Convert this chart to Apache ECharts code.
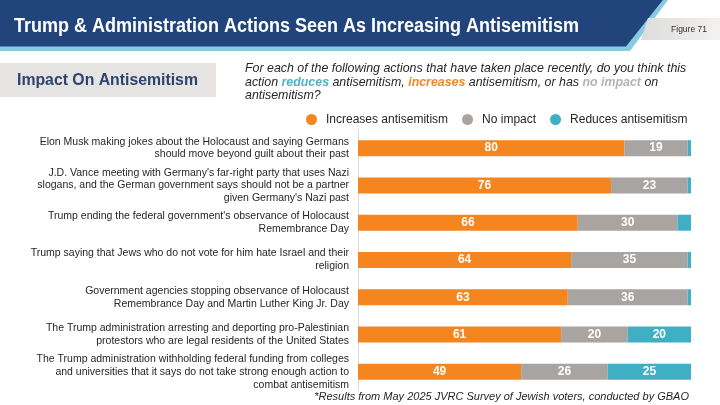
<!DOCTYPE html>
<html>
<head>
<meta charset="utf-8">
<script src="https://cdn.jsdelivr.net/npm/echarts@6/dist/echarts.min.js"></script>
<style>html,body{margin:0;padding:0;background:#fff}#c{width:720px;height:405px}</style>
</head>
<body>
<div id="c"></div>
<script>
const categories = [
  "Elon Musk making jokes about the Holocaust and saying Germans\nshould move beyond guilt about their past",
  "J.D. Vance meeting with Germany's far-right party that uses Nazi\nslogans, and the German government says should not be a partner\ngiven Germany's Nazi past",
  "Trump ending the federal government's observance of Holocaust\nRemembrance Day",
  "Trump saying that Jews who do not vote for him hate Israel and their\nreligion",
  "Government agencies stopping observance of Holocaust\nRemembrance Day and Martin Luther King Jr. Day",
  "The Trump administration arresting and deporting pro-Palestinian\nprotestors who are legal residents of the United States",
  "The Trump administration withholding federal funding from colleges\nand universities that it says do not take strong enough action to\ncombat antisemitism"
];
const increases = [80, 76, 66, 64, 63, 61, 49];
const noImpact = [19, 23, 30, 35, 36, 20, 26];
const reduces = [1, 1, 4, 1, 1, 20, 25];
const seriesNames = ["Increases antisemitism", "No impact", "Reduces antisemitism"];

const ORANGE = '#f5851f', GRAY = '#a8a4a1', TEAL = '#3fb0c4';
const FONT = 'Liberation Sans, Arial, sans-serif';
const chart = echarts.init(document.getElementById('c'), null, {renderer: 'canvas'});

function mkSeries(name, data, color) {
  return {
    name: name, type: 'bar', stack: 'total', data: data, barWidth: 16,
    itemStyle: {color: color},
    label: {
      show: true, position: 'inside', color: '#fff', fontWeight: 'bold', fontSize: 12,
      fontFamily: FONT,
      formatter: p => (p.value >= 5 ? String(p.value) : '')
    }
  };
}

chart.setOption({
  animation: false,
  textStyle: {fontFamily: FONT},
  legend: {
    data: seriesNames, top: 108.5, left: 301, icon: 'circle', itemWidth: 11, itemHeight: 11,
    itemGap: 14, textStyle: {fontSize: 12, color: '#262626', padding: [0, 0, 0, 4]}
  },
  grid: {left: 358, right: 29, top: 129.5, height: 261, containLabel: false},
  xAxis: {type: 'value', min: 0, max: 100, show: false},
  yAxis: {
    type: 'category', data: categories, inverse: true,
    axisLine: {show: true, lineStyle: {color: '#dcdcdc', width: 1}},
    axisTick: {show: false},
    axisLabel: {fontSize: 10.5, color: '#262626', lineHeight: 12.8, margin: 9, align: 'right'}
  },
  series: [mkSeries(seriesNames[0], increases, ORANGE), mkSeries(seriesNames[1], noImpact, GRAY), mkSeries(seriesNames[2], reduces, TEAL)],
  graphic: [
    {type: 'polygon', shape: {points: [[0, 46], [626, 46], [663, 0], [668, 0], [630, 51], [0, 51]]}, style: {fill: '#86cbe1'}},
    {type: 'polygon', shape: {points: [[0, 0], [663, 0], [626, 46.5], [0, 46.5]]}, style: {fill: '#21447b'}},
    {type: 'text', x: 14, y: 26.5, scaleX: 0.9, style: {text: 'Trump & Administration Actions Seen As Increasing Antisemitism', fill: '#fff', font: 'bold 20px ' + FONT, textVerticalAlign: 'middle'}},
    {type: 'polygon', shape: {points: [[648, 18], [720, 18], [720, 40], [641, 40]]},
      style: {fill: new echarts.graphic.LinearGradient(0, 0, 1, 0, [{offset: 0, color: '#dedcda'}, {offset: 1, color: '#f3f2f1'}])}},
    {type: 'text', x: 689, y: 29.5, style: {text: 'Figure 71', fill: '#333', font: '8.5px ' + FONT, textAlign: 'center', textVerticalAlign: 'middle'}},
    {type: 'rect', shape: {x: 0, y: 63, width: 216, height: 34}, style: {fill: '#e6e4e3'}},
    {type: 'text', x: 17, y: 80.5, scaleX: 0.93, style: {text: 'Impact On Antisemitism', fill: '#2e446f', font: 'bold 17px ' + FONT, textVerticalAlign: 'middle'}},
    {type: 'text', x: 245, y: 62, style: {
      text: 'For each of the following actions that have taken place recently, do you think this\naction {r|reduces} antisemitism, {i|increases} antisemitism, or has {n|no impact} on\nantisemitism?',
      fill: '#262626', font: 'italic 12.4px ' + FONT, lineHeight: 13.6, textVerticalAlign: 'top',
      rich: {
        r: {fill: '#4fb3c8', font: 'italic bold 12.4px ' + FONT, lineHeight: 13.6},
        i: {fill: '#f0882a', font: 'italic bold 12.4px ' + FONT, lineHeight: 13.6},
        n: {fill: '#b7b2af', font: 'italic bold 12.4px ' + FONT, lineHeight: 13.6}
      }
    }},
    {type: 'text', x: 689, y: 397, style: {text: '*Results from May 2025 JVRC Survey of Jewish voters, conducted by GBAO', fill: '#262626', font: 'italic 11px ' + FONT, textAlign: 'right', textVerticalAlign: 'middle'}}
  ]
});
</script>
</body>
</html>
